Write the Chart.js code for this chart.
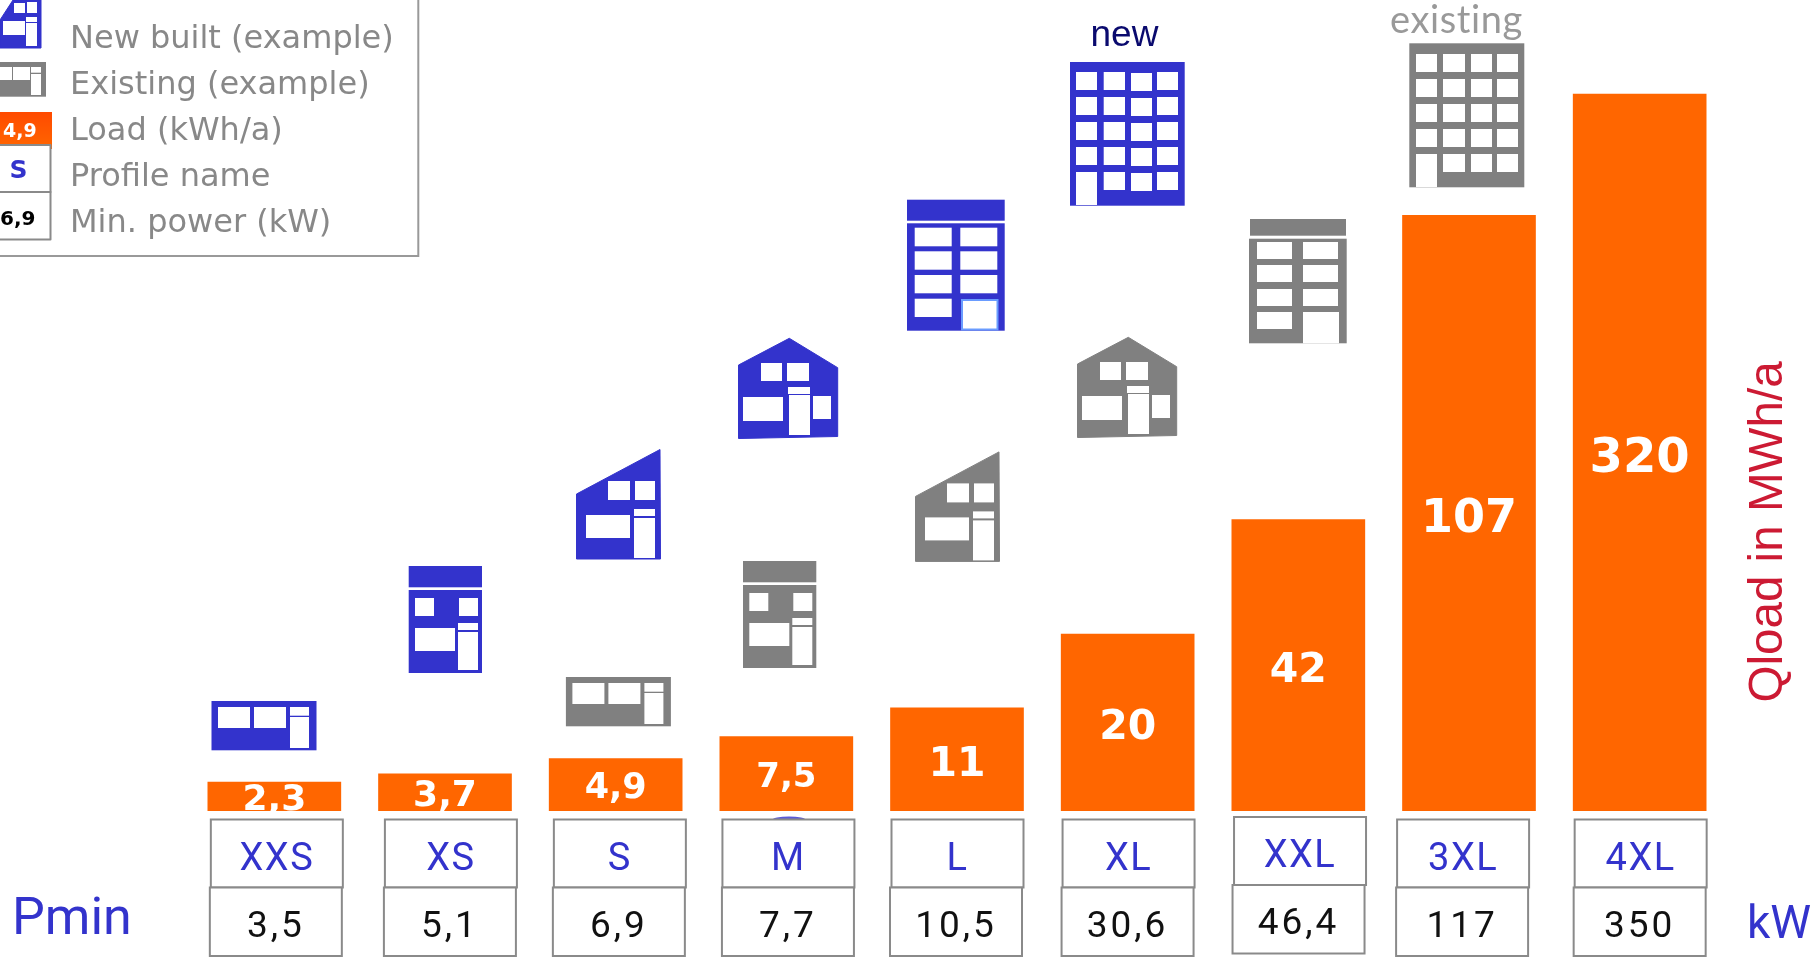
<!DOCTYPE html>
<html>
<head>
<meta charset="utf-8">
<title>Load profiles</title>
<script src="https://cdn.jsdelivr.net/npm/chart.js@4/dist/chart.umd.min.js"></script>
<style>
  html, body { margin: 0; padding: 0; background: #fff; overflow: hidden; }
  canvas { display: block; }
</style>
</head>
<body>
<canvas id="chart" width="1818" height="957"></canvas>
<script>
const profileNames = ['XXS', 'XS', 'S', 'M', 'L', 'XL', 'XXL', '3XL', '4XL'];
const loadValues = [2.3, 3.7, 4.9, 7.5, 11, 20, 42, 107, 320];
const pminValues = [3.5, 5.1, 6.9, 7.7, 10.5, 30.6, 46.4, 117, 350];
const legendLabels = ['New built (example)', 'Existing (example)', 'Load (kWh/a)', 'Profile name', 'Min. power (kW)'];

// the bars in the picture are not to scale, the axis bends at these values
const axisKnots = [0, 2, 4, 5, 10, 20, 50, 110, 400];
const axisRise = [0, 27, 39, 54, 95, 177, 333, 609.6, 757.8];

const BLUE = '#3333cc';
const GREY = '#808080';
const ORANGE = '#ff6600';
const LINE = '#8a8a8a';

class KnottedScale extends Chart.LinearScale {
  getPixelForValue(value) {
    const knots = this.options.knots, rise = this.options.rise;
    let i = 0;
    while (i < knots.length - 2 && value > knots[i + 1]) i++;
    const t = (value - knots[i]) / (knots[i + 1] - knots[i]);
    return this.bottom - (rise[i] + t * (rise[i + 1] - rise[i]));
  }
}
KnottedScale.id = 'knotted';
KnottedScale.defaults = Chart.LinearScale.defaults;
Chart.register(KnottedScale);

const comma = v => String(v).replace('.', ',');

function text(ctx, str, x, y, font, color, align, spacing) {
  ctx.font = font;
  ctx.fillStyle = color;
  ctx.textAlign = align || 'left';
  ctx.textBaseline = 'alphabetic';
  ctx.letterSpacing = spacing || '0px';
  ctx.fillText(str, x, y);
  ctx.letterSpacing = '0px';
}

function rects(ctx, list, color) {
  ctx.fillStyle = color;
  list.forEach(r => ctx.fillRect(r[0], r[1], r[2] - r[0], r[3] - r[1]));
}

function poly(ctx, pts, color) {
  ctx.beginPath();
  pts.forEach((p, i) => i ? ctx.lineTo(p[0], p[1]) : ctx.moveTo(p[0], p[1]));
  ctx.closePath();
  ctx.fillStyle = color;
  ctx.strokeStyle = color;
  ctx.lineWidth = 1;
  ctx.lineJoin = 'round';
  ctx.fill();
  ctx.stroke();
}

function flatHouse(ctx, color, dx, dy) {
  ctx.save();
  ctx.translate(dx, dy);
  rects(ctx, [[211.5, 701, 316.5, 750.3]], color);
  rects(ctx, [[218, 707, 250, 728], [254, 707, 286, 728], [290, 707, 309, 715.7], [290, 717, 309, 748]], '#fff');
  ctx.restore();
}

function narrowHouse(ctx, color, dx, dy) {
  ctx.save();
  ctx.translate(dx, dy);
  rects(ctx, [[408.7, 566, 482, 587.3], [408.7, 590, 482, 673]], color);
  rects(ctx, [[415, 598, 434, 616], [459, 598, 478, 616], [415, 628, 455, 651], [458, 623, 478, 630], [458, 632, 478, 670]], '#fff');
  ctx.restore();
}

function shedHouse(ctx, color, dx, dy) {
  ctx.save();
  ctx.translate(dx, dy);
  poly(ctx, [[576.5, 494], [660, 449.5], [660.5, 559], [576.5, 559]], color);
  rects(ctx, [[608, 481, 630, 500], [635, 481, 655, 500], [586, 515, 630, 538], [634, 509, 655, 516], [634, 518, 655, 558]], '#fff');
  ctx.restore();
}

function gableHouse(ctx, color, dx, dy) {
  ctx.save();
  ctx.translate(dx, dy);
  poly(ctx, [[738.5, 365], [789.3, 338.3], [837.7, 367.7], [837.7, 436.5], [738.5, 438.5]], color);
  rects(ctx, [[761, 363, 782, 381], [787, 363, 809, 381], [743, 397, 783, 421], [788, 387, 810, 394], [789, 395, 810, 435], [813, 396, 831, 419]], '#fff');
  ctx.restore();
}

function drawIcons(ctx) {
  flatHouse(ctx, BLUE, 0, 0);
  narrowHouse(ctx, BLUE, 0, 0);
  shedHouse(ctx, BLUE, 0, 0);
  gableHouse(ctx, BLUE, 0, 0);
  flatHouse(ctx, GREY, 354.4, -24);
  narrowHouse(ctx, GREY, 334.3, -5);
  shedHouse(ctx, GREY, 339, 2.4);
  gableHouse(ctx, GREY, 339, -1);

  // L blue tower
  rects(ctx, [[907, 199.7, 1004.7, 220.7], [907, 223.3, 1004.7, 330.7]], BLUE);
  rects(ctx, [[914.7, 227.7, 951.7, 246.3], [960.3, 227.7, 997.3, 246.3], [914.7, 251.3, 951.7, 269.7], [960.3, 251.3, 997.3, 269.7],
    [914.7, 275, 951.7, 293.3], [960.3, 275, 997.3, 293.3], [914.7, 298.7, 951.7, 317], [961, 299, 998, 330]], '#fff');
  ctx.strokeStyle = '#6a9cff';
  ctx.lineWidth = 2;
  ctx.strokeRect(962, 300, 35.5, 29.5);

  // XXL grey tower
  rects(ctx, [[1250, 219, 1346, 235.7], [1249, 238.7, 1346.7, 343.3]], GREY);
  rects(ctx, [[1257, 242, 1292, 259], [1303, 242, 1338, 259], [1257, 265, 1292, 282], [1303, 265, 1338, 282],
    [1257, 289, 1292, 306], [1303, 289, 1338, 306], [1257, 312, 1292, 329], [1303, 312, 1339, 343.3]], '#fff');

  // XL blue block
  rects(ctx, [[1070, 62, 1184.7, 205.7]], BLUE);
  const blueCols = [[1076, 1097, 0], [1103.7, 1125, 0], [1131, 1152, 1], [1157, 1178, 0]];
  [72, 97, 122, 147, 172].forEach((top, r) => blueCols.forEach((c, i) => {
    if (r === 4 && i === 0) return;
    rects(ctx, [[c[0], top + c[2], c[1], top + 18 + c[2]]], '#fff');
  }));
  rects(ctx, [[1076, 172, 1097, 205]], '#fff');

  // 3XL grey block
  rects(ctx, [[1409.3, 43.3, 1524.3, 187.3]], GREY);
  const greyCols = [[1416, 1437], [1443, 1465], [1471, 1492], [1497, 1518]];
  [54, 79, 104, 129, 154].forEach((top, r) => greyCols.forEach((c, i) => {
    if (r === 4 && i === 0) return;
    rects(ctx, [[c[0], top, c[1], top + 18]], '#fff');
  }));
  rects(ctx, [[1416, 154, 1437, 187]], '#fff');

  text(ctx, 'new', 1090.5, 45.7, '37px "Liberation Sans"', '#0a0a6e');
  text(ctx, 'existing', 1390, 32.7, '400 38px Lato', '#999999', 'left', '0.6px');
}

function drawLegend(ctx) {
  ctx.strokeStyle = '#999999';
  ctx.lineWidth = 2;
  ctx.strokeRect(-4, -4, 422.3, 260);

  // swatches run off the left edge like in the picture
  poly(ctx, [[0, 20], [13, 0], [41, 0], [41, 48], [0, 48]], BLUE);
  rects(ctx, [[14, 3, 25, 13], [27, 2, 37, 13], [3, 21, 25, 35], [26, 17, 37, 22], [26, 23, 37, 46]], '#fff');
  rects(ctx, [[0, 62, 46, 96.7]], GREY);
  rects(ctx, [[0, 67, 12, 80], [13, 67, 30, 80], [31, 67, 41, 72.7], [31, 74, 41, 95]], '#fff');

  const grad = ctx.createLinearGradient(0, 112, 0, 149);
  grad.addColorStop(0, '#ff4a00');
  grad.addColorStop(1, ORANGE);
  ctx.fillStyle = grad;
  ctx.fillRect(0, 112, 52, 37);
  text(ctx, '4,9', 3, 137, 'bold 19px "DejaVu Sans"', '#fff');

  ctx.fillStyle = '#fff';
  ctx.strokeStyle = LINE;
  ctx.lineWidth = 2;
  ctx.fillRect(-4, 145, 54.5, 47);
  ctx.strokeRect(-4, 145, 54.5, 47);
  ctx.fillRect(-4, 192, 54.5, 47.5);
  ctx.strokeRect(-4, 192, 54.5, 47.5);
  text(ctx, 'S', 18.5, 178, 'bold 25px "DejaVu Sans"', BLUE, 'center');
  text(ctx, '6,9', 0, 225, 'bold 20px "DejaVu Sans"', '#000');

  legendLabels.forEach((t, i) => text(ctx, t, 70, 48 + i * 46, '32px "DejaVu Sans"', '#888888'));
}

// how far each table cell sits from the bar centre
const nameBoxNudge = [2.5, 5.9, 4.2, 2.1, 0.5, 0.9, 1.7, -5.9, 1];
const pminBoxNudge = [1.5, 4.9, 3.2, 1.6, -1, -0.1, 0.2, -6.9, 0];
const boxLift = [0, 0, 0, 0, 0, 0, 2.5, 0, 0];
const loadFontSize = [36, 36, 35, 34, 41, 41, 41, 46, 48];

const tablePlugin = {
  id: 'table',
  afterDatasetsDraw(chart) {
    const ctx = chart.ctx;
    const x = chart.scales.x;
    const bars = chart.getDatasetMeta(0).data;

    // values in the bars, small bars cut the comma off
    bars.forEach((bar, i) => {
      const lower = i > 2 ? 0.4 : 0.365;
      ctx.save();
      ctx.beginPath();
      ctx.rect(bar.x - 70, bar.y, 140, bar.base - bar.y);
      ctx.clip();
      text(ctx, comma(loadValues[i]), bar.x, (bar.y + bar.base) / 2 + loadFontSize[i] * lower,
        'bold ' + loadFontSize[i] + 'px "DejaVu Sans"', '#fff', 'center');
      ctx.restore();
    });

    // the sliver of a circle above the M box
    ctx.fillStyle = '#5a5ad8';
    ctx.beginPath();
    ctx.ellipse(789, 820, 17, 3.5, 0, 0, Math.PI * 2);
    ctx.fill();

    profileNames.forEach((name, i) => {
      const c = x.getPixelForValue(i);
      const lift = boxLift[i];
      ctx.fillStyle = '#fff';
      ctx.strokeStyle = LINE;
      ctx.lineWidth = 2;
      const nx = c + nameBoxNudge[i] - 66;
      ctx.fillRect(nx, 819.5 - lift, 132, 68);
      ctx.strokeRect(nx, 819.5 - lift, 132, 68);
      text(ctx, name, nx + 66, 869.5 - lift, '38px Roboto', BLUE, 'center', '1.5px');

      const px = c + pminBoxNudge[i] - 66;
      ctx.fillStyle = '#fff';
      ctx.strokeStyle = LINE;
      ctx.lineWidth = 2;
      ctx.fillRect(px, 887.5 - lift, 132, 68.5);
      ctx.strokeRect(px, 887.5 - lift, 132, 68.5);
      text(ctx, comma(pminValues[i]), px + 66, 936.7 - lift, '37px Roboto', '#111111', 'center', '3px');
    });

    text(ctx, 'Pmin', 12, 934, '52px Roboto', BLUE);
    text(ctx, 'kW', 1747, 938, '46px Roboto', BLUE);

    ctx.save();
    ctx.translate(1782, 532);
    ctx.rotate(-Math.PI / 2);
    text(ctx, 'Qload in MWh/a', 0, 0, '47.6px "Liberation Sans"', '#cc1a33', 'center');
    ctx.restore();

    drawIcons(ctx);
    drawLegend(ctx);
  }
};

new Chart(document.getElementById('chart'), {
  type: 'bar',
  data: {
    labels: profileNames,
    datasets: [{
      label: 'Load (kWh/a)',
      data: loadValues,
      backgroundColor: ORANGE,
      barThickness: 133
    }]
  },
  options: {
    responsive: false,
    animation: false,
    layout: { padding: { left: 189, right: 93, top: 0, bottom: 146 } },
    plugins: { legend: { display: false }, tooltip: { enabled: false } },
    scales: {
      x: { display: false, grid: { display: false } },
      y: { type: 'knotted', display: false, min: 0, max: 400, knots: axisKnots, rise: axisRise }
    }
  },
  plugins: [tablePlugin]
});
</script>
</body>
</html>
